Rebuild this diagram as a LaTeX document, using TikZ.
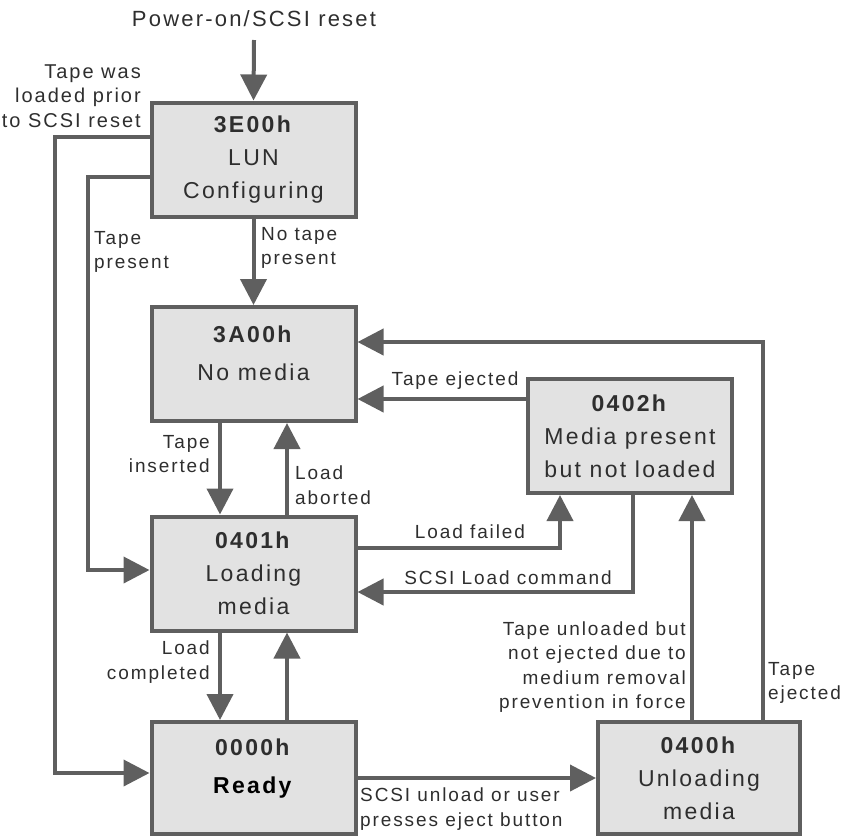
\documentclass[tikz,border=0pt]{standalone}
\usepackage{fontspec}
\usepackage{tikz}
\usetikzlibrary{arrows.meta}
\setmainfont{Liberation Sans}[LetterSpace=10]

\definecolor{linegray}{HTML}{5F5F5F}
\definecolor{boxgray}{HTML}{E2E2E2}
\definecolor{txtgray}{HTML}{2E2E2E}

\tikzset{
	state/.style={draw=linegray, line width=4pt, fill=boxgray, text=txtgray,
		minimum width=204pt, minimum height=114pt, inner sep=0pt, align=center,
		font=\fontsize{23}{33}\selectfont},
	arr/.style={draw=linegray, line width=4pt, -{Triangle[length=26pt,width=26pt]}},
	lbl/.style={text=txtgray, inner sep=0pt, font=\fontsize{19}{24.5}\selectfont}
}

\begin{document}
\begin{tikzpicture}[x=1pt,y=-1pt]
	\useasboundingbox (0,0) rectangle (842,836);

	% states
	\node[state] (cfg) at (253.5,159.5) {\textbf{3E00h}\\LUN\\Configuring};
	\node[state, text depth=22pt] (nomedia) at (253.5,364) {\textbf{3A00h}\\[5pt]No media};
	\node[state] (loading) at (253.5,573.5) {\textbf{0401h}\\Loading\\media};
	\node[state, minimum height=112pt, text depth=24pt] (ready) at (253.5,778) {\textbf{0000h}\\[5pt]\textcolor{black}{\textbf{Ready}}};
	\node[state] (notloaded) at (630,436) {\textbf{0402h}\\Media present\\but not loaded};
	\node[state, minimum width=202pt, minimum height=112pt] (unloading) at (699,778) {\textbf{0400h}\\Unloading\\media};

	% labels
	\node[lbl, font=\fontsize{22}{26}\selectfont] (reset) at (254,19) {Power-on/SCSI reset};
	\node[lbl, anchor=east, align=right, font=\fontsize{20}{24.5}\selectfont] (wasloaded) at (141,96) {Tape was\\loaded prior\\to SCSI reset};
	\node[lbl, anchor=west, align=left] (tapepres) at (94,252) {Tape\\present};
	\node[lbl, anchor=west, align=left] (notape) at (261,248) {No tape\\present};
	\node[lbl, anchor=east, align=right] (inserted) at (210,454) {Tape\\inserted};
	\node[lbl, anchor=west, align=left] (aborted) at (295,485) {Load\\aborted};
	\node[lbl, anchor=east, align=right] (completed) at (210,662) {Load\\completed};
	\node[lbl] (ejected) at (455,381) {Tape ejected};
	\node[lbl] (failed) at (470,532) {Load failed};
	\node[lbl] (loadcmd) at (508,578) {SCSI Load command};
	\node[lbl, anchor=east, align=right] (prevent) at (686,667) {Tape unloaded but\\not ejected due to\\medium removal\\prevention in force};
	\node[lbl, anchor=west, align=left] (ejected2) at (768,683) {Tape\\ejected};
	\node[lbl, anchor=west, align=left] (unload) at (360,809) {SCSI unload or user\\presses eject button};

	% transitions
	\coordinate (start) at (254,40);
	\draw[arr] (start) -- (cfg.north);
	\draw[arr] ([yshift=22.5pt]cfg.west) -- ++(-95,0) |- ([yshift=5pt]ready.west);
	\draw[arr] ([yshift=-17.5pt]cfg.west) -- ++(-62,0) |- ([yshift=3.5pt]loading.west);
	\draw[arr] (cfg.south) -- (nomedia.north);
	\foreach \a/\b in {nomedia/loading, loading/ready}
	{
		\draw[arr] ([xshift=-33.5pt]\a.south) -- ([xshift=-33.5pt]\b.north);
		\draw[arr] ([xshift=33.5pt]\b.north) -- ([xshift=33.5pt]\a.south);
	}
	\draw[arr] ([yshift=37pt]notloaded.west) -- ([yshift=-35pt]nomedia.east);
	\draw[arr] ([xshift=64pt]unloading.north) |- ([yshift=22pt]nomedia.east);
	\draw[arr] ([yshift=25.5pt]loading.east) -| ([xshift=-70pt]notloaded.south);
	\draw[arr] ([xshift=3pt]notloaded.south) |- ([yshift=-18.5pt]loading.east);
	\draw[arr] ([xshift=-7pt]unloading.north) -- ([xshift=62pt]notloaded.south);
	\draw[arr] (ready.east) -- (unloading.west);
\end{tikzpicture}
\end{document}
